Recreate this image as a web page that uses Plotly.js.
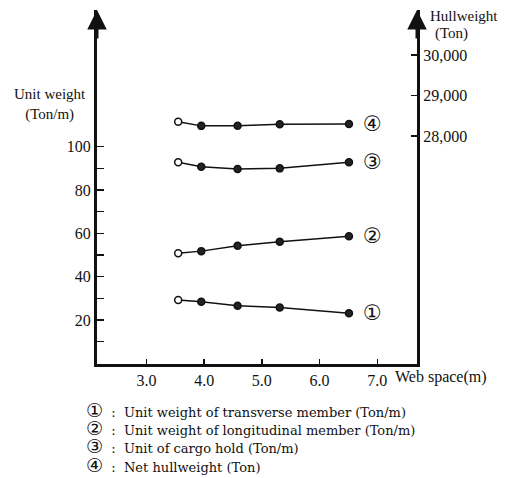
<!DOCTYPE html>
<html>
<head>
<meta charset="utf-8">
<script src="https://cdn.plot.ly/plotly-3.0.1.min.js"></script>
<style>html,body{margin:0;padding:0;background:#fff;}#chart{width:508px;height:478px;}</style>
</head>
<body>
<div id="chart"></div>
<script>
// Data
const webSpace = [3.55, 3.95, 4.58, 5.31, 6.51];
const transverse = [29.2, 28.4, 26.6, 25.8, 23.1];     // (1) Ton/m
const longitudinal = [50.8, 51.8, 54.3, 56.1, 58.7];   // (2) Ton/m
const cargoHold = [92.8, 90.7, 89.7, 90.0, 92.8];      // (3) Ton/m
const netHull = [28350, 28250, 28255, 28290, 28295];   // (4) Ton
const seriesMarks = ['①', '②', '③', '④'];
const seriesNames = [
  'Unit weight of transverse member (Ton/m)',
  'Unit weight of longitudinal member (Ton/m)',
  'Unit of cargo hold (Ton/m)',
  'Net hullweight (Ton)'
];
const xTickVals = [3, 4, 5, 6, 7];
const xTickText = ['3.0', '4.0', '5.0', '6.0', '7.0'];
const yTickVals = [10, 20, 30, 40, 50, 60, 70, 80, 90, 100];
const yTickText = ['', '20', '', '40', '', '60', '', '80', '', '100'];
const y2TickVals = [28000, 29000, 30000];
const y2TickText = ['28,000', '29,000', '30,000'];

const ink = '#111';
const serif = 'Liberation Serif';
const legendFont = 'DejaVu Serif';

function mk(y, axis) {
  return {
    x: webSpace, y: y, yaxis: axis, type: 'scatter', mode: 'lines+markers',
    line: {color: ink, width: 1.5},
    marker: {size: 7, color: webSpace.map((v, i) => i === 0 ? 'white' : '#222'),
             line: {color: ink, width: 1.5}},
    showlegend: false, hoverinfo: 'skip'
  };
}

const data = [mk(transverse, 'y'), mk(longitudinal, 'y'), mk(cargoHold, 'y'), mk(netHull, 'y2')];
const lastIdx = webSpace.length - 1;
const ends = [[transverse, 'y'], [longitudinal, 'y'], [cargoHold, 'y'], [netHull, 'y2']];

const annotations = [];
ends.forEach((e, i) => {
  annotations.push({x: webSpace[lastIdx], y: e[0][lastIdx], xref: 'x', yref: e[1],
    text: seriesMarks[i], showarrow: false, xshift: 24,
    font: {family: 'DejaVu Sans', size: 21, color: ink}});
});
// axis arrows
[0, 1].forEach(px => {
  annotations.push({x: px, y: 1, xref: 'paper', yref: 'paper', text: '', showarrow: true,
    ax: 0, ay: 30, axref: 'pixel', ayref: 'pixel', arrowhead: 2, arrowsize: 1.3,
    arrowwidth: 3, arrowcolor: ink, standoff: 0});
});
annotations.push({x: -0.147, y: 0.734, xref: 'paper', yref: 'paper', text: 'Unit weight<br>(Ton/m)',
  showarrow: false, xanchor: 'center', yanchor: 'middle', align: 'center',
  font: {family: serif, size: 15, color: ink}});
annotations.push({x: 1.0344, y: 0.983, xref: 'paper', yref: 'paper', text: 'Hullweight',
  showarrow: false, xanchor: 'left', yanchor: 'middle', font: {family: serif, size: 15, color: ink}});
annotations.push({x: 1.107, y: 0.935, xref: 'paper', yref: 'paper', text: '(Ton)',
  showarrow: false, xanchor: 'center', yanchor: 'middle', font: {family: serif, size: 15, color: ink}});
annotations.push({x: 0.925, y: -0.037, xref: 'paper', yref: 'paper', text: 'Web space(m)',
  showarrow: false, xanchor: 'left', yanchor: 'middle', font: {family: serif, size: 16, color: ink}});
// bottom key as one text block
const keyText = seriesNames.map((n, i) =>
  '<span style="font-family:DejaVu Sans;font-size:19px">' + seriesMarks[i] + '</span>' +
  '<span style="font-size:13px">  :  ' + n + '</span>').join('<br>');
annotations.push({x: -0.04, y: (364 - 397) / 354, xref: 'paper', yref: 'paper', text: keyText,
  showarrow: false, xanchor: 'left', yanchor: 'top', align: 'left',
  font: {family: legendFont, size: 14, color: ink}});

const layout = {
  width: 508, height: 478,
  margin: {l: 97, r: 91, t: 10, b: 114, pad: 0},
  paper_bgcolor: 'white', plot_bgcolor: 'white',
  showlegend: false,
  xaxis: {range: [2.143, 7.689], tickvals: xTickVals, ticktext: xTickText,
    ticks: 'inside', ticklen: 5, tickwidth: 1.5, tickcolor: ink,
    showline: true, linewidth: 3, linecolor: ink, showgrid: false, zeroline: false,
    tickfont: {family: serif, size: 16, color: ink}},
  yaxis: {range: [-0.3, 163.1], tickvals: yTickVals, ticktext: yTickText,
    ticks: 'inside', ticklen: 7, tickwidth: 1.5, tickcolor: ink,
    showline: true, linewidth: 3, linecolor: ink, showgrid: false, zeroline: false,
    tickfont: {family: serif, size: 16, color: ink}},
  yaxis2: {overlaying: 'y', side: 'right', anchor: 'x', range: [22370, 31111],
    tickvals: y2TickVals, ticktext: y2TickText,
    ticks: 'inside', ticklen: 6, tickwidth: 1.5, tickcolor: ink,
    showline: true, linewidth: 3, linecolor: ink, showgrid: false, zeroline: false,
    tickfont: {family: serif, size: 16, color: ink}},
  annotations: annotations
};

Plotly.newPlot('chart', data, layout, {staticPlot: true, displayModeBar: false});
</script>
</body>
</html>
